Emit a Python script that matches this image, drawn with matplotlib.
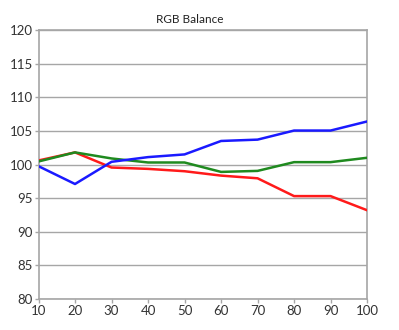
import numpy as np
import matplotlib
matplotlib.use('Agg')
import matplotlib.pyplot as plt

# input level (%) and measured balance per channel
levels = [10, 20, 30, 40, 50, 60, 70, 80, 90, 100]
red = [100.6, 101.8, 99.55, 99.35, 99.0, 98.35, 97.95, 95.3, 95.3, 93.2]
green = [100.45, 101.8, 100.9, 100.3, 100.3, 98.9, 99.05, 100.35, 100.35, 101.0]
blue = [99.75, 97.1, 100.4, 101.1, 101.5, 103.5, 103.7, 105.05, 105.05, 106.4]
yticks = [80, 85, 90, 95, 100, 105, 110, 115, 120]

plt.rcParams['font.family'] = ['Lato', 'DejaVu Sans']

fig = plt.figure(figsize=(3.99, 3.3), dpi=100)
ax = fig.add_axes([0.0965, 0.094, 0.8235, 0.815])

gray = '#a6a6a6'
ax.plot(levels, red, color='#ff1a1a', lw=1.8, zorder=3)
ax.plot(levels, green, color='#1f8a1f', lw=1.8, zorder=3)
ax.plot(levels, blue, color='#1a1aff', lw=1.8, zorder=4)

ax.set_xlim(10, 100)
ax.set_ylim(80, 120)
ax.set_xticks(levels)
ax.set_yticks(yticks)
ax.yaxis.grid(True, color=gray, lw=1.0)
ax.set_axisbelow(True)
for s in ax.spines.values():
    s.set_color(gray)
    s.set_linewidth(1.2)
ax.tick_params(axis='both', colors=gray, labelcolor='#333333', labelsize=9.5,
               length=3, width=1, pad=1)

# title sits a bit left of the plot centre in the original
fig.text(0.476, 0.925, 'RGB Balance', fontsize=8.5, color='#222222',
         ha='center', va='bottom')

fig.savefig('out.png', dpi=100)
